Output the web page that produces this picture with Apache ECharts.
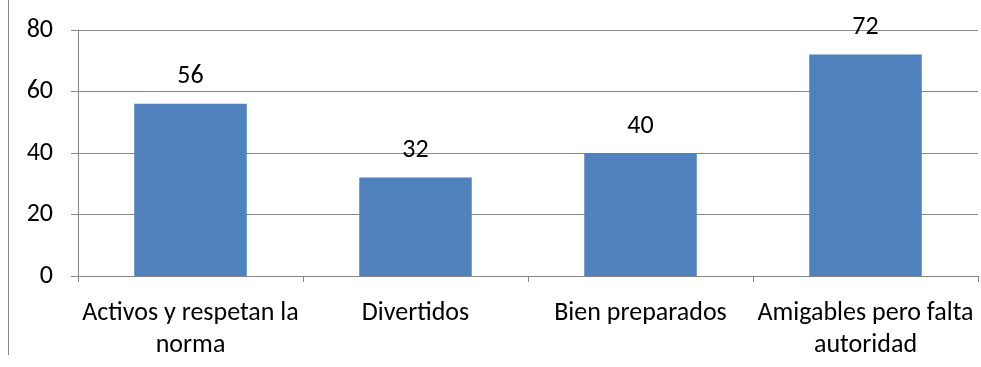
<!DOCTYPE html>
<html>
<head>
<meta charset="utf-8">
<script src="https://cdn.jsdelivr.net/npm/echarts@6/dist/echarts.min.js"></script>
<style>
  html, body { margin: 0; padding: 0; background: #fff; }
  #chart { width: 981px; height: 367px; }
</style>
</head>
<body>
<div id="chart"></div>
<script>
// Category names (line breaks where the labels wrap)
const categories = [
  'Activos y respetan la\nnorma',
  'Divertidos',
  'Bien preparados',
  'Amigables pero falta\nautoridad'
];
const values = [56, 32, 40, 72];
const yTicks = { min: 0, max: 80, interval: 20 };

const font = 'Carlito, "Open Sans", "Noto Sans", sans-serif';
const axisGrey = '#868686';

const chart = echarts.init(document.getElementById('chart'), null, { renderer: 'canvas' });
chart.setOption({
  animation: false,
  backgroundColor: '#ffffff',
  grid: { left: 78, right: 3, top: 30, bottom: 91, containLabel: false },
  graphic: [{
    type: 'line',
    shape: { x1: 8.5, y1: 0, x2: 8.5, y2: 355 },
    style: { stroke: axisGrey, lineWidth: 1 }
  }],
  xAxis: {
    type: 'category',
    data: categories,
    axisLine: { show: true, lineStyle: { color: axisGrey, width: 1 } },
    axisTick: { show: true, alignWithLabel: false, length: 6, lineStyle: { color: axisGrey } },
    axisLabel: {
      color: '#000', fontFamily: font, fontSize: 26, lineHeight: 32, margin: 21, interval: 0
    }
  },
  yAxis: {
    type: 'value',
    min: yTicks.min, max: yTicks.max, interval: yTicks.interval,
    axisLine: { show: true, lineStyle: { color: axisGrey, width: 1 } },
    axisTick: { show: true, length: 7, lineStyle: { color: axisGrey } },
    splitLine: { show: true, lineStyle: { color: axisGrey, width: 1 } },
    axisLabel: { color: '#000', fontFamily: font, fontSize: 26, margin: 25 }
  },
  series: [{
    type: 'bar',
    data: values,
    barWidth: '50%',
    itemStyle: { color: '#4F81BD' },
    label: {
      show: true, position: 'top', distance: 14,
      color: '#000', fontFamily: font, fontSize: 26
    }
  }]
});
</script>
</body>
</html>
